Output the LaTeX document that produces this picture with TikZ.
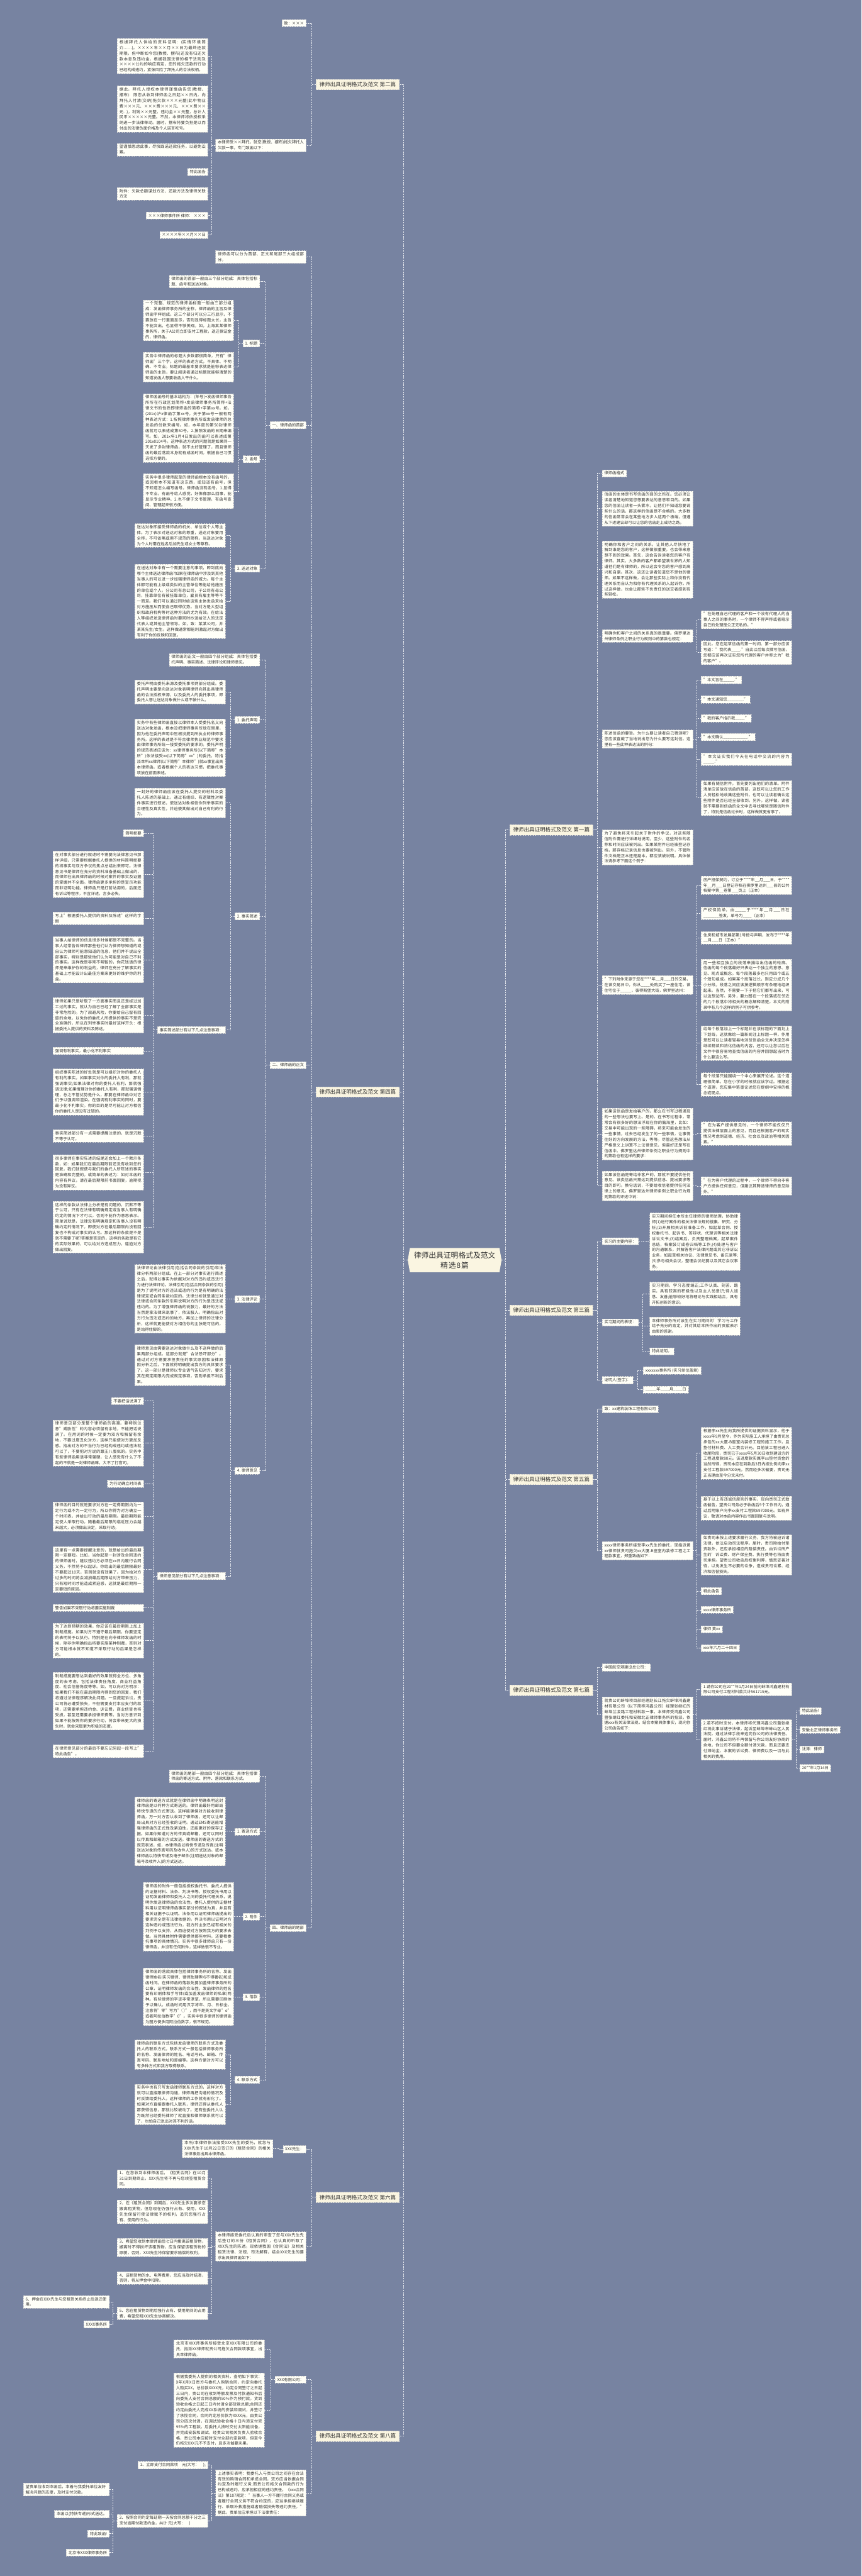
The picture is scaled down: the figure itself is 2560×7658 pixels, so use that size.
\documentclass[tikz,border=0pt]{standalone}
\usepackage{fontspec}
\setmainfont{Noto Sans CJK SC}
\usetikzlibrary{shapes.symbols}
\XeTeXlinebreaklocale "zh"
\XeTeXlinebreakskip=0pt plus 1pt

\definecolor{bgc}{HTML}{7783A1}
\definecolor{leafbg}{HTML}{FFFFF8}
\definecolor{topicbg}{HTML}{FAF5E1}
\definecolor{boxline}{HTML}{CDCDCD}
\definecolor{linec}{HTML}{EEF0F4}
\definecolor{ink}{HTML}{333333}

\tikzset{
    leaf/.style={draw=boxline, dash pattern=on 3pt off 2pt, line width=0.9pt,
        fill=leafbg, text=ink, font=\fontsize{11.8}{16.6}\selectfont,
        inner xsep=6.5pt, inner ysep=5pt},
    para/.style={leaf, text width=256pt, align=justify},
    topic/.style={leaf, fill=topicbg, font=\fontsize{16}{20}\selectfont,
        inner xsep=10pt, inner ysep=8pt},
    root/.style={signal, signal to=west and east, signal pointer angle=160,
        fill=topicbg, text=ink, font=\fontsize{22}{30}\selectfont,
        text width=246pt, align=center, inner xsep=10pt, inner ysep=11pt},
    link/.style={draw=linec, line width=1.4pt, dash pattern=on 4pt off 3pt},
}

% elbow connectors: parent on the right (L) or on the left (R) of its children
\newcommand\linkL[2]{\foreach \c in {#2} \draw[link] (#1.west) -- ++(-12,0) |- (\c.east);}
\newcommand\linkR[2]{\foreach \c in {#2} \draw[link] (#1.east) -- ++(12,0) |- (\c.west);}

\begin{document}
\begin{tikzpicture}[x=1pt, y=-1pt]

    \useasboundingbox (0,0) rectangle (2560,7658);
    \fill[bgc] (0,0) rectangle (2560,7658);

    \node[root] (root) at (1351,3746) {律师出具证明格式及范文\\精选8篇};

    % topics
    \node[topic, anchor=east] (t2) at (1187,251) {律师出具证明格式及范文 第二篇};
    \node[topic, anchor=east] (t4) at (1187,3246) {律师出具证明格式及范文 第四篇};
    \node[topic, anchor=east] (t6) at (1187,6532) {律师出具证明格式及范文 第六篇};
    \node[topic, anchor=east] (t8) at (1187,7242) {律师出具证明格式及范文 第八篇};
    \node[topic, anchor=west] (t1) at (1514,2467) {律师出具证明格式及范文 第一篇};
    \node[topic, anchor=west] (t3) at (1514,3895) {律师出具证明格式及范文 第三篇};
    \node[topic, anchor=west] (t5) at (1514,4398) {律师出具证明格式及范文 第五篇};
    \node[topic, anchor=west] (t7) at (1514,5025) {律师出具证明格式及范文 第七篇};
    \linkL{root}{t2,t4,t6,t8}
    \linkR{root}{t1,t3,t5,t7}

    % ---------- 第二篇
    \node[leaf, anchor=east] (b1) at (910,69) {致：×××};
    \node[para, anchor=east] (b2) at (910,432) {本律师受××拜托，就您(教授、摆布)拖欠拜托人欠款一事，专门致函以下：};
    \node[para, anchor=east] (b2a) at (618,167) {根据拜托人供给的资料证明：(实情环境简介……)。××××年××月××日为最终还款期限，但中断如今您(教授、摆布)还没有归还欠款本息及违约金，根据我国法律的相干法则及××××公约的响应商定，您的拖欠还款的行动已经构成违约，紧张风险了拜托人的合法权柄。};
    \node[para, anchor=east] (b2b) at (618,324) {据此，拜托人授权本律师谨慎函告您(教授、摆布)：限您从收到律师函之日起××日内，向拜托人付清(交纳)拖欠款×××元整(此中物业费×××元、×××费×××元、×××费××元...)，利钱××元整，违约金××元整，总计人民币×××××元整。不然，本律师将依授权采纳进一步法律举动。届时，摆布将要负担是以而付出的法律负面价格及个人诺言吃亏。};
    \node[para, anchor=east] (b2c) at (618,445) {望谨慎思虑此事，尽快践诺还款任务，以避免讼累。};
    \node[leaf, anchor=east] (b2d) at (618,511) {特此函告};
    \node[para, anchor=east] (b2e) at (618,576) {附件：欠款总额谋划方法、还款方法及律师关联方法};
    \node[leaf, anchor=east] (b2f) at (618,641) {×××律师事件所 律师： ×××};
    \node[leaf, anchor=east] (b2g) at (618,698) {××××年××月××日};
    \linkL{t2}{b1,b2}
    \linkL{b2}{b2a,b2b,b2c,b2d,b2e,b2f,b2g}

    % ---------- 第四篇
    \node[para, anchor=east] (d0) at (910,764) {律师函可以分为首部、正文和尾部三大组成部分。};
    \node[leaf, anchor=east] (d1) at (910,1264) {一、律师函的首部};
    \node[leaf, anchor=east] (d2) at (910,3166) {二、律师函的正文};
    \node[leaf, anchor=east] (d4) at (910,5731) {四、律师函的尾部};
    \linkL{t4}{d0,d1,d2,d4}

    \node[para, anchor=east] (d1a) at (772,837) {律师函的首部一般由三个部分组成：具体包括标题、函号和送达对象。};
    \node[leaf, anchor=east] (d1b) at (772,1021) {1. 标题};
    \node[leaf, anchor=east] (d1c) at (772,1365) {2. 函号};
    \node[leaf, anchor=east] (d1d) at (772,1690) {3. 送达对象};
    \linkL{d1}{d1a,d1b,d1c,d1d}
    \node[para, anchor=east] (d1b1) at (695,952) {一个完整、规范的律师函标题一般由三部分组成：发函律师事务所的全称，律师函的主旨及律师函字样组成。这三个部分可以分三行显示，不要放在一行里面显示，否则显得标题太长，主旨不能突出，也显得不够美观。如，上海某某律师事务所，关于A公司立即支付工程款，返还保证金的，律师函。};
    \node[para, anchor=east] (d1b2) at (695,1091) {实务中律师函的标题大多数都很简单，只有"律师函"三个字。这样的表述方式，不具体、不明确、不专业。标题的最基本要求就是能够表达律师函的主旨，要让阅读者通过标题就能够清楚的知道发函人想要收函人干什么。};
    \linkL{d1b}{d1b1,d1b2}
    \node[para, anchor=east] (d1c1) at (695,1272) {律师函函号的基本结构为：(年号)+发函律师事务所所在行政区划简称+发函律师事务所简称+法律文书的性质即律师函的简称+字第xx号。如，(201x)沪x律函字第xx号。关于第xx号一般有两种表达方式：1.按照律师事务所或发函律师的总发函的份数来编号。如，本年度的第50封律师函就可以表述成第50号。2.按照发函的日期来编写。如，201x年1月4日发出的函可以表述成第201x0104号。这种表达方式的问题就是如果同一天发了多封律师函，就不太好管理了，而且律师函的最后落款本身就有成函时间。根据自己习惯选择方便的。};
    \node[para, anchor=east] (d1c2) at (695,1460) {实务中很多律师起草的律师函根本没有函号的，或因根本不知道有这东西，或知道有函号，但不知道怎么编写函号。律师函没有函号，1.显得不专业。有函号给人感觉，好像像那么回事，能显示专业精神。2.也不便于文书管理。有函号查阅、管理起来很方便。};
    \linkL{d1c}{d1c1,d1c2}
    \node[para, anchor=east] (d1d1) at (670,1592) {送达对象即接受律师函的机关、单位或个人等主体。为了表示对送达对象的尊重，送达对象要用全称，不可省略或用不规范的简称。当送达对象为个人时需在姓名后加先生或女士等尊称。};
    \node[para, anchor=east] (d1d2) at (670,1788) {在送达对象中有一个需要注意的事项，即到底向哪个主体送达律师函?如果在律师函中涉及到其他当事人的可以进一步加强律师函的威力。每个主体都可能有上级或类似的主管单位等能给他施压的单位或个人。分公司有总公司，子公司有母公司，挂靠单位有被挂靠单位，雇员有雇主等等不一而足。我们可以通过同时给这些主体发函来给对方施压从而使自己取得优势。当对方是大型组织和政府机构等时这种方法的尤为有效。在给法人等组织发送律师函时要同时抄送给法人的法定代表人或其他主管领导。如，致：某某公司，并某某先生/女生。这样做通常都能刺激起对方做出有利于你的反映和回复。};
    \linkL{d1d}{d1d1,d1d2}

    \node[para, anchor=east] (d2a) at (772,1961) {律师函的正文一般由四个部分组成：具体包括委托声明、事实简述、法律评论和律师意见。};
    \node[leaf, anchor=east] (d2b) at (772,2140) {1. 委托声明};
    \node[leaf, anchor=east] (d2c) at (772,2724) {2. 事实简述};
    \node[leaf, anchor=east] (d2d) at (772,3862) {3. 法律评论};
    \node[leaf, anchor=east] (d2e) at (772,4372) {4. 律师意见};
    \linkL{d2}{d2a,d2b,d2c,d2d,d2e}
    \node[para, anchor=east] (d2b1) at (670,2057) {委托声明由委托来源及委托事项两部分组成。委托声明主要是向送达对象表明律师向其出具律师函的合法授权来源，以及委托人的委托事项，即委托人想让送达对象做什么或不做什么。};
    \node[para, anchor=east] (d2b2) at (670,2223) {实务中有些律师函直接以律师本人受委托名义向送达对象发函，根本没把律师事务所放在眼里，因为他在委托声明中压根没提到所执业的律师事务所。这样的表述是不符合律师执业规范中要求由律师事务所统一接受委托的要求的。委托声明的规范表述应该为：xx律师事务所(以下简称"本所")依法接受xx(以下简称"xx")的委托，特指派本所xx律师(以下简称"本律师")就xx事宜出具本律师函。或者根据个人的表达习惯，把委托事项放在前面表述。};
    \linkL{d2b}{d2b1,d2b2}
    \node[para, anchor=east] (d2c1) at (670,2387) {一封好的律师函应该在委托人提交的材料及委托人陈述的基础上，通过有组织、有逻辑性对案件事实进行叙述，使送达对象相信你列举事实的合理性及真实性，并迫使其做出对自己有利的行为。};
    \node[leaf, anchor=east] (d2c2) at (670,3062) {事实简述部分有以下几点注意事项：};
    \linkL{d2c}{d2c1,d2c2}
    \node[leaf, anchor=east] (s1) at (427,2477) {简明扼要};
    \node[para, anchor=east] (s2) at (427,2599) {在对事实部分进行叙述时不需要向法律意见书那样详细，只需要根据委托人提供的材料简明扼要的将事实与双方争议的焦点总结出来即可。法律意见书是律师在充分的资料准备基础上做出的，而律师在出具律师函的时候对案件的事实及证据的掌握并不全面。律师函更多承担的是宣示功能而非证明功能。律师函只是打前站用的，后面还有诉讼等程序，不宜详述，言多必失。};
    \node[para, anchor=east] (s3) at (427,2730) {写上"根据委托人提供的资料及陈述"这样的字眼};
    \node[para, anchor=east] (s4) at (427,2853) {当事人给律师的信息很多时候都是不完整的。当事人经常告诉律师那些他们认为律师想知道的或自认为律师可能想知道的信息，他们并不说出全部事实，特别是那些他们认为可能是对自己不利的事实。这样做是非常不明智的，你花钱请的律师是来维护你的利益的，律师在充分了解事实的基础上才能设计出最佳方案来更好的维护你的利益。};
    \node[para, anchor=east] (s5) at (427,3018) {律师如果只是听取了一方面事实而且还是经过加工过的事实，就认为自己已经了解了全部事实是非常危险的。为了规避风险，你要给自己留有回旋的余地，以免你的委托人所提供的事实不是完全准确的，所以在列举事实时最好这样开头：根据委托人提供的资料及陈述。};
    \node[para, anchor=east] (s6) at (427,3124) {强调有利事实，最小化不利事实};
    \node[para, anchor=east] (s7) at (427,3246) {组织事实陈述的好处就是可以组织对你的委托人有利的事实。如果事实对你的委托人有利，那就强调事实;如果法律对你的委托人有利，那就强调法律;如果情理对你的委托人有利，那就强调情理，总之不管优势是什么，都要在律师函中对它们予以强调和渲染。在强调有利事实的同时，要最小化不利事实。你的目的是尽可能让对方相信你的委托人是没有过错的。};
    \node[para, anchor=east] (s8) at (427,3377) {事实简述部分有一点需要提醒注意的，就是沉默不等于认可。};
    \node[para, anchor=east] (s9) at (427,3485) {很多律师在事实陈述的结尾还会加上一个默示条款，如：如果我们在最后期限前还没有收到您的回复，我们就假使与我们的委托人所陈述的事实是准确和完整的。或简单的表述为：如对本函的内容有异议，请在最后期限前书面回复，逾期视为没有异议。};
    \node[para, anchor=east] (s10) at (427,3648) {这样的条款从法律上分析是有问题的，沉默不等于认可，只有在法律有明确规定或当事人有明确约定的情况下才可以，否则不能作为意思表示。简单说就是，法律没有明确规定和当事人没有明确约定的情况下，即使对方在最后期限内没有回复也不构成对事实的认可。那这样的条款是不是就不需要了呢?答案是否定的，这样的条款是有它的实际效果的，可以给对方造成压力，逼迫对方做出回复。};
    \linkL{d2c2}{s1,s2,s3,s4,s5,s6,s7,s8,s9,s10}
    \node[para, anchor=east] (d2d1) at (670,3861) {法律评论由法律引用(包括合同条款的引用)和法律分析两部分组成。在上一部分对事实进行简述之后，就得以事实为依据对对方的违约或违法行为进行法律评论。法律引用(包括合同条款的引用)是为了说明对方的违法或违约行为是有明确的法律规定或合同条款约定的。法律分析就是通过对法律或合同条款的引用说明对方的行为是违法或违约的。为了增强律师函的说服力，最好的方法当然是拿法律来说事了，依法服人。明确指出对方行为违法或违约的地方，再加上律师的法律分析，这样就更能使对方相信你的主张是可信的，是站得住脚的。};
    \linkL{d2d}{d2d1}
    \node[para, anchor=east] (d2e1) at (670,4058) {律师意见由需要送达对象做什么及不这样做的后果两部分组成。这部分就是"合法恐吓部分"。通过对对方需要承担责任的事实原因和法律原因分析之后，下面就得明确提出我方的具体要求了。这一部分是律师以专业语气告知对方，要求其在规定期限内完成规定事项，否则承担不利后果。};
    \node[leaf, anchor=east] (d2e2) at (670,4685) {律师意见部分有以下几点注意事项：};
    \linkL{d2e}{d2e1,d2e2}
    \node[leaf, anchor=east] (o1) at (427,4165) {不要把话说满了};
    \node[para, anchor=east] (o2) at (427,4290) {律师意见部分是整个律师函的高潮，要特别注意"威胁性"的内容必须留有余地，不能把话说满了。在用词的时候一定要为双方和解留有余地，不要过度丑化对方，这样只能使对方更加反感。指出对方的不当行为已经构成违约或违法就可以了，不要把对方说的跟王八蛋似的。实务中有些律师函用语非常强硬，让人感觉有什么了不起的不就是一封律师函嘛，大不了打官司。};
    \node[leaf, anchor=east] (o3) at (427,4411) {为行动确立时间表};
    \node[para, anchor=east] (o4) at (427,4508) {律师函的目的就是要求对方在一定得期限内为一定行为或不为一定行为，所以你得为对方确立一个时间表，并给出行动的最后期限。最后期限能足使人采取行动，随着最后期限的临近压力会越来越大，必须做出决定，采取行动。};
    \node[para, anchor=east] (o5) at (427,4666) {这里有一点需要提醒注意的，就是给出的最后期限一定要短。比如，当你起草一封涉及合同违约的律师函时，建议违约方必须在xx日内履行合同义务，不然将予以起诉。你给出的最后期限最好不要超过10天，否则就没有效果了。因为给对方过多的时间将会减损最后期限给对方带来压力，只有短时间才能造成紧迫感，这就是最后期限一定要短的原因。};
    \node[para, anchor=east] (o6) at (427,4780) {警告如果不采取行动将要实施制裁};
    \node[para, anchor=east] (o7) at (427,4877) {为了达到预期的效果，你应该在最后期限上加上制裁措施。如果对方不遵守最后期限，你要坚定的表明将予以执行。特别是在向非律师发函的时候，除非你明确指出将要实施某种制裁，否则对方可能根本就不知道不采取行动的后果是怎样的。};
    \node[para, anchor=east] (o8) at (427,5057) {制裁措施要想达到最好的效果就得全方位、多角度的去考虑，包括法律责任角度、商业利益角度、社会信誉角度等等。如，可以向对方明示：如果我们不能在最后期限内得到您的回复，我们将通过法律程序解决此问题。一旦提起诉讼，贵公司将必遭受损失，不但需要支付本应支付的款项，还需要承担违约金、诉讼费，商业信誉也将受损，甚至还需要承担律师费等。当对方意识到如果不能按照你的要求行动，将会带来更大的损失时，就会采取更为积极的态度。};
    \node[para, anchor=east] (o9) at (427,5206) {在律师意见部分的最后不要忘记另起一段写上"特此函告"。};
    \linkL{d2e2}{o1,o2,o3,o4,o5,o6,o7,o8,o9}

    \node[para, anchor=east] (d4a) at (772,5280) {律师函的尾部一般由四个部分组成：具体包括律师函的寄送方式、附件、落款和联系方式。};
    \node[leaf, anchor=east] (d4b) at (772,5445) {1. 寄送方式};
    \node[leaf, anchor=east] (d4c) at (772,5698) {2. 附件};
    \node[leaf, anchor=east] (d4d) at (772,5937) {3. 落款};
    \node[leaf, anchor=east] (d4e) at (772,6183) {4. 联系方式};
    \linkL{d4}{d4a,d4b,d4c,d4d,d4e}
    \node[para, anchor=east] (d4b1) at (670,5444) {律师函的寄送方式就是在律师函中明确表明这封律师函是以何种方式寄送的。律师函最好用邮局特快专递的方式寄送。这样能确保对方能收到律师函，万一对方否认收到了律师函，还可以让邮局出具对方已经签收的证明。通过EMS寄送能增强律师函的正式性及紧迫性，还能更好的保存证据。如果你知道对方的传真或邮箱，还可以同时以传真和邮箱的方式发送。律师函的寄送方式的规范表述，如，本律师函以特快专递及传真(注明送达对象的传真号码及收件人)的方式送达。或本律师函以特快专递及电子邮件(注明送达对象的邮箱号及收件人)的方式送达。};
    \linkL{d4b}{d4b1}
    \node[para, anchor=east] (d4c1) at (695,5698) {律师函的附件一般包括授权委托书、委托人提供的证据材料、法条、判决书等。授权委托书用以证明发函律师和委托人之间的委托代理关系，说明你发送律师函的合法性。委托人提供的证据材料用以证明律师函事实部分的叙述为真，并且有相关证据予以证明。法条用以证明律师函提出的要求完全是有法律依据的。判决书用以证明对方这种违约或违法行为，我方的主张已经有相关的判例予以支持，从而迫使对方按照我方的要求去做。当然具体附件需要提供那些材料，还要看委托事项的具体情况。实务中很多律师函只有一份律师函，并没有任何附件，这样做很不专业。};
    \linkL{d4c}{d4c1}
    \node[para, anchor=east] (d4d1) at (695,5936) {律师函的落款具体包括律师事务所的名称、发函律师姓名(实习律师、律师助理等均不得署名)和成函时间。在律师函的落款处要加盖律师事务所的公章，证明律师发函的合法性。发函律师的姓名要有印刷体和手写体(或加盖发函律师的私章)两种。有些律师的字迹非常潦草，所以需要印刷体予以确认。成函时间用汉字将年、月、日标全。注意将"零"写为"○"，而不是英文字母"o"或者阿拉伯数字"0"。实务中很多律师的律师函为图方便多用阿拉伯数字，很不规范。};
    \linkL{d4d}{d4d1}
    \node[para, anchor=east] (d4e1) at (670,6108) {律师函的联系方式包括发函律师的联系方式及委托人的联系方式。联系方式一般包括律师事务所的名称、发函律师的姓名、电话号码、邮箱、传真号码、联系地址和邮编等。这样方便对方可以有多种方式和我方取得联系。};
    \node[para, anchor=east] (d4e2) at (670,6256) {实务中也有只写发函律师联系方式的，这样对方就可以直接跟律师沟通，律师再把沟通的情况及时反馈给委托人，这样律师的工作就有形化了。如果对方直接跟委托人联系，律师还得从委托人那获得信息，那就比较被动了。还有些委托人认为既然已经委托律师了就直接和律师联系就可以了，也怕自己说出对其不利的话。};
    \linkL{d4e}{d4e1,d4e2}

    % ---------- 第六篇
    \node[leaf, anchor=east] (f1) at (910,6389) {XXX先生：};
    \node[para, anchor=east] (f2) at (910,6678) {本律师接受委托后认真的审查了您与XXX先生先后签订的三份《租赁合同》，也认真的听取了XXX先生的陈述。现依据我国《合同法》及相关租赁法律、法规、司法解释，结合XXX先生的要求出具律师函如下：};
    \linkL{t6}{f1,f2}
    \node[para, anchor=east] (f1a) at (811,6387) {本所/本律师依法接受XXX先生的委托，就您与XXX先生于10月22日签订的《租赁合同》的相关法律事务出具本律师函。};
    \linkL{f1}{f1a}
    \node[para, anchor=east] (f2a) at (618,6477) {1、在您收到本律师函后，《租赁合同》在10月31日到期终止，XXX先生将不再与您续签租赁合同。};
    \node[para, anchor=east] (f2b) at (618,6575) {2、在《租赁合同》到期后，XXX先生多次要求您搬离租赁物，但您现在仍强行占有、使用，XXX先生保留行使法律赋予的权利，追究您强行占有、使用的行为。};
    \node[para, anchor=east] (f2c) at (618,6681) {3、希望您收到本律师函后七日内搬离该租赁物，搬离时不得损坏该租赁物，应当保留该租赁物的原貌，否则，XXX先生将保留要求赔偿的权利。};
    \node[para, anchor=east] (f2d) at (618,6772) {4、该租赁物的水、电等费用，您应当及时结清，否则，将从押金中扣除。};
    \node[para, anchor=east] (f2e) at (618,6877) {5、您在租赁物到期后强行占有、使用期间的占用费，希望您和XXX先生协商解决。};
    \linkL{f2}{f2a,f2b,f2c,f2d,f2e}
    \node[leaf, anchor=east, text width=242pt, align=left] (f2e1) at (325,6843) {6、押金在XXX先生与您租赁关系终止后退还使用。};
    \node[leaf, anchor=east] (f2e2) at (325,6910) {XXXX事务所};
    \linkL{f2e}{f2e1,f2e2}

    % ---------- 第八篇
    \node[leaf, anchor=east] (h1) at (910,7074) {XXX有限公司：};
    \node[para, anchor=east] (h2) at (910,7411) {上述事实表明：我委托人与贵公司之间存在合法有效的购销合同和承揽合同，双方应当依据合同约定及时履行义务;而贵公司拖欠合同款的行为已构成违约，应承担相应的违约责任。《xxx合同法》第107规定："当事人一方不履行合同义务或者履行合同义务不符合约定的，应当承担继续履行、采取补救措施或者赔偿损失等违约责任。"据此，贵单位应承担以下法律责任：};
    \linkL{t8}{h1,h2}
    \node[para, anchor=east] (h1a) at (786,6983) {北京市XXX师事务所接受北京XXX有限公司的委托，指派XX律师就贵公司拖欠合同款项事宜，出具本律师函。};
    \node[para, anchor=east] (h1b) at (786,7165) {根据我委托人提供的相关资料，查明如下事实：X年X月X日贵方与委托人购销合同，约定向委托人购买XX，总价款XXXX元，约定合同签订之日起三日内，贵公司在收到等额发票及付款通知书后向委托人支付合同总额的50\%作为预付款，货到验收合格之日起三日内付清全部货款总额;合同还约定由委托人完成XX系统的安装和调试，并签订了承揽合同，合同约定总价款为XXXX元，由贵公司分四次付清，在调试验收合格十日内须支付完95\%的工程款。后委托人按时交付太阳能设备，并完成安装和调试，经贵公司相关负责人验收合格，贵公司本应按时支付全部约定款项，但至今仍拖欠XXX元不予支付，且多次催要未果。};
    \linkL{h1}{h1a,h1b}
    \node[leaf, anchor=east] (h2a) at (618,7328) {1、立即支付合同款项\quad 元(大写：\quad );};
    \node[para, anchor=east] (h2b) at (618,7494) {2、按照合同约定每延期一天按合同总额千分之三支付逾期付款违约金，共计 元(大写：\quad )};
    \linkL{h2}{h2a,h2b}
    \node[leaf, anchor=east, text width=242pt, align=left] (h2b1) at (325,7401) {望贵单位收到本函后，本着与我委托单位友好解决问题的态度，及时支付欠款。};
    \node[leaf, anchor=east] (h2b2) at (325,7474) {本函以(特快专递)形式送达。};
    \node[leaf, anchor=east] (h2b3) at (325,7532) {特此致函!};
    \node[leaf, anchor=east] (h2b4) at (325,7588) {北京市XXX律师事务所};
    \linkL{h2b}{h2b1,h2b2,h2b3,h2b4}

    % ---------- 第一篇
    \node[leaf, anchor=west] (a1) at (1789,1407) {律师函格式};
    \node[para, anchor=west] (a2) at (1789,1512) {信函的主体是书写信函的目的之所在。您必须让读者清楚地知道您想要表达的意思和目的。如果您的信函让读者一头雾水，让他们不知道您要说些什么的话，那这样的信函是不合格的。大多数的信函常常会在某些地方步入这两个极端，但遵从下述建议却可以让您的信函走上成功之路。};
    \node[para, anchor=west] (a3) at (1789,1693) {明确你和客户之间的关系。让其他人尽快地了解到谁是您的客户，这样做很重要，也会带来意想不到的效果。首先，这会告诉读者您的客户有律师。其实，大多数的客户都希望满世界的人知道他们是有律师的，所以这会令您的客户感到高兴和自豪。其次，这还让读者知道您不是他的律师。如果不这样做，会让那些实际上和你没有代理关系而自认为和你有代理关系的人起诉你，所以这样做，也会让那些不负责任的送交者感到有些轻松。};
    \node[para, anchor=west] (a4) at (1789,1891) {明确你和客户之间的关系真的很重要。佛罗里达州律师条例之职业行为规则中的第款也规定：};
    \node[para, anchor=west] (a5) at (1789,2197) {陈述信函的要旨。为什么要让读者自己猜测呢？您应该直截了当地说出您为什么要写这封信。这里有一些此种表达法的例句：};
    \node[para, anchor=west] (a6) at (1789,2519) {为了避免将来引起关于附件的争议，对这些随信附件需进行详细地说明，至少，这些附件的名称和时间应该被列出。如果某附件已经被登记存档，那存档记录信息也要被列出。另外，不管附件文档是正本还是副本，都应该被说明。具体做法请参考下面这个例子：};
    \node[para, anchor=west] (a7) at (1789,2928) {"下列附件来源于您在****年\_\_月\_\_\_日的交易，在该交易日中，你从\_\_\_\_处购买了一座住宅，该住宅位于\_\_\_\_\_，彼得斯堡大街，佛罗里达州：};
    \node[para, anchor=west] (a8) at (1789,3371) {如果该信函是发给客户的，那么在书写过程涌现的一些想法也要写上。是的，在书写过程中，常常会有很多好的想法浮现在你的脑海里，比如：交易中可能出现的一些障碍，将来可能会发生的一些事情，过去已经发生了的一些事情，让事情往好的方向发展的方法，等等。尽管这些想法从严格意义上讲算不上法律意见，但最好还是写在信函中。佛罗里达州律师条例之职业行为规则中的第款也有这样的要求：};
    \node[para, anchor=west] (a9) at (1789,3525) {如果该信函是寄给非客户的，那就不要提供任何意见。该类信函只需达到提供信息、提出要求等目的即可。换句话说，不要给收信者提供任何法律上的意见。佛罗里达州律师条例之职业行为规则第款的评述中说：};
    \linkR{t1}{a1,a2,a3,a4,a5,a6,a7,a8,a9}
    \node[para, anchor=west] (a4a) at (2083,1842) {"在处理自己代理的客户和一个没有代理人的当事人之间的事务时，一个律师不得声称或者暗示自己的处理是公正无私的。"};
    \node[para, anchor=west] (a4b) at (2083,1940) {因此，您在起草信函的第一时间、第一部分应该写道："我代表\_\_\_\_."自此以后每次撰写信函，您都应该再次证实您所代理的客户并称之为"我的客户"。};
    \linkR{a4}{a4a,a4b}
    \node[leaf, anchor=west] (a5a) at (2083,2021) {"本文旨在\_\_\_\_\_."};
    \node[leaf, anchor=west] (a5b) at (2083,2079) {"本文通知您\_\_\_\_\_\_\_."};
    \node[leaf, anchor=west] (a5c) at (2083,2135) {"我的客户指示我\_\_\_\_."};
    \node[leaf, anchor=west] (a5d) at (2083,2191) {"本文确认\_\_\_\_\_\_\_\_\_\_\_."};
    \node[para, anchor=west] (a5e) at (2083,2257) {"本文证实我们今天在电话中交流的内容为\_\_\_\_\_."};
    \node[para, anchor=west] (a5f) at (2083,2372) {如果有随信附件，首先要列出他们的清单。附件清单应该放在信函的首部，这既可以让您的工作人员轻松地收集这些附件，也可以让读者确认这些附件是否已经全部收到。另外，这样做，读者就不需要到信函的全文中去寻找哪些是随信附件了，特别是信函过长时，这样做就更省事了。};
    \linkR{a5}{a5a,a5b,a5c,a5d,a5e,a5f}
    \node[para, anchor=west] (a7a) at (2083,2632) {房产担保契约，订立于****年\_\_月\_\_\_日，于****年\_\_月\_\_\_日登记存档在佛罗里达州\_\_\_县的公共档案中第\_\_卷第\_\_\_页上（正本）};
    \node[para, anchor=west] (a7b) at (2083,2715) {产权保险单，由\_\_\_\_\_于****年\_\_月\_\_\_日在\_\_\_\_\_\_\_签发，单号为\_\_\_\_（正本）};
    \node[para, anchor=west] (a7c) at (2083,2788) {住房和城市发展部第1号授与声明，发布于****年\_\_月\_\_\_日（正本）"};
    \node[para, anchor=west] (a7d) at (2083,2928) {用一些相互独立的段落来描绘出信函的轮廓。信函的每个段落最好只表达一个独立的意思、意见、观点或概念。每个段落最多也只用四个或五个短句组成。如果某个段落过长，则应分成几个小分段。段落之间应该按逻辑顺序有条理地组织起来。当然，不需要一下子把它们都写出来，可以边想边写。另外，要力图在一个段落或在邻近的几个段落中将相关的概念解释清楚。本文的附录中有几个这样的例子可供参考。};
    \node[para, anchor=west] (a7e) at (2083,3101) {给每个段落加上一个标题并在该标题的下面划上下划线，这就像给一篇新闻注上标题一样，作用是既可以让读者轻易地浏览信函全文并决定怎样继续精读和消化信函的内容，还可以让您以后在文件中很容易地查找信函的内容并回想起当时为什么要这么写。};
    \node[para, anchor=west] (a7f) at (2083,3224) {每个段落只能围绕一个中心来展开论述。这个道理很简单，您在小学的时候就应该学过。根据这个道理，您应集中笔墨论述您在提纲中安排的概念或观点。};
    \linkR{a7}{a7a,a7b,a7c,a7d,a7e,a7f}
    \node[para, anchor=west] (a8a) at (2083,3370) {"在为客户提供意见时，一个律师不能仅仅只提供法律层面上的意见，而且还根据客户的现实情况考虑到道德、经济、社会以及政治等相关因素。"};
    \linkR{a8}{a8a}
    \node[para, anchor=west] (a9a) at (2083,3526) {"在为客户代理的过程中，一个律师不得向非客户方提供任何意见，但建议其聘请律师的意见除外。"};
    \linkR{a9}{a9a}

    % ---------- 第三篇
    \node[leaf, anchor=west] (c1) at (1789,3690) {实习的主要内容：};
    \node[leaf, anchor=west] (c2) at (1789,3931) {实习期间的表现：};
    \node[leaf, anchor=west] (c3) at (1789,4103) {证明人(签字)：};
    \linkR{t3}{c1,c2,c3}
    \node[para, anchor=west] (c1a) at (1930,3691) {实习期间担任本所主任律师的律师助理，协助律师(1)进行案件的相关法律法规的搜集、研究、分析;(2)开展相关诉前准备工作，如起草合同、授权委托书、起诉书、答辩状、代理词等相关法律诉讼文书;(3)结案后，负责整理档案，起草案件总结，档案装订成卷归档等工作;(4)处理与客户的沟通联系，并解答客户法律问题或其它非诉讼业务，如起草相关协议、法律意见书、备忘录等;(5)参与相关会议，整理会议纪要以及其它会议事务。};
    \linkR{c1}{c1a}
    \node[para, anchor=west] (c2a) at (1930,3847) {实习期间，学习态度端正;工作认真、刻苦、踏实，具有较高的积极性以及主人翁意识;待人诚恳、友善;能够较好地将理论与实践相结合，具有开拓创新的意识。};
    \node[para, anchor=west] (c2b) at (1930,3942) {本律师事务所对该生在实习期间的'学习与工作给予充分的肯定，并对其给本所作出的贡献表示由衷的感谢。};
    \node[leaf, anchor=west] (c2c) at (1930,4017) {特此证明。};
    \linkR{c2}{c2a,c2b,c2c}
    \node[leaf, anchor=west] (c3a) at (1911,4074) {xxxxxxx事务所 (实习单位盖章)};
    \node[leaf, anchor=west] (c3b) at (1911,4131) {\_\_\_\_\_年\_\_\_\_月\_\_\_\_日};
    \linkR{c3}{c3a,c3b}

    % ---------- 第五篇
    \node[leaf, anchor=west] (e1) at (1789,4189) {致：xx建筑装饰工程有限公司};
    \node[para, anchor=west] (e2) at (1789,4610) {xxxx律师事务所接受李xx先生的委托，现指派黄xx律师就贵司拖欠xx大厦-B座室内装修工程之工程款事宜，郑重致函如下：};
    \linkR{t5}{e1,e2}
    \node[para, anchor=west] (e2a) at (2083,4320) {根据李xx先生向我所提供的证据资料显示，他于xxxx年9月至今，作为实际施工人承担了由贵司总承包的xx大厦-B座室内装修工程的施工工作，且垫付材料费、人工费合计元。目前该工程已进入收尾阶段，贵司已于xxxx年5月30日收到建设方的工程进度款80元。该进度款实属李xx垫付资金的当然所得，贵司本应在到款后3日内按比例向李xx支付工程款697000元。然而经多次催要，贵司无正当理由至今分文未付。};
    \node[para, anchor=west] (e2b) at (2083,4483) {基于以上有违诚信原则的事实，现向贵司正式致函催告，望贵公司务必于收函后5个工作日内，通过后附账户向李xx支付工程款697000元。如有异议，敬请对本函内容作出书面回复与说明。};
    \node[para, anchor=west] (e2c) at (2083,4622) {如贵司未按上述要求履行义务，我方将被迫诉诸法律，依法启动司法程序。届时，贵司除给付垫资款外，还应承担相应的赔偿责任。由诉讼所产生的'诉讼费、财产保全费、执行费等也将由贵司承担。望贵公司收函后权衡利弊，慎思妥善对待，以免发生不必要的讼争，造成贵司讼累、经济和信誉损失。};
    \node[leaf, anchor=west] (e2d) at (2083,4730) {特此函告};
    \node[leaf, anchor=west] (e2e) at (2083,4786) {xxxx律师事务所};
    \node[leaf, anchor=west] (e2f) at (2083,4843) {律师 黄xx};
    \node[leaf, anchor=west] (e2g) at (2083,4899) {xxx年六月二十四日};
    \linkR{e2}{e2a,e2b,e2c,e2d,e2e,e2f,e2g}

    % ---------- 第七篇
    \node[leaf, anchor=west] (g1) at (1789,4957) {中国航空港建设总公司：};
    \node[para, anchor=west] (g2) at (1789,5097) {就贵公司蚌埠项目部经理赵长江拖欠蚌埠鸿鑫建材有限公司（以下简称鸿鑫公司）经理张继红的蚌埠兰凌路工程材料款一事，本律师受鸿鑫公司暨张继红委托和安徽北正律师事务所的指派，依据xxx有关法律法规，结合本案具体事实，现向你公司函告如下：};
    \linkR{t7}{g1,g2}
    \node[para, anchor=west] (g2a) at (2083,5022) {1.请你公司在20**年1月24日前向蚌埠鸿鑫建材有限公司支付工程材料款共计561715元。};
    \node[para, anchor=west] (g2b) at (2083,5172) {2.若不按时支付，本律师将代理鸿鑫公司暨张继红将此事诉诸于法律，起诉至蚌埠市蚌山区人民法院，通过法律手段来追究你公司的法律责任。届时，鸿鑫公司将不再保留与你公司友好协商的余地，你公司不但要全额付清欠款，而且还要支付滞纳金、本案的诉讼费、律师费以及一切与此相关的费用。};
    \linkR{g2}{g2a,g2b}
    \node[leaf, anchor=west] (g2b1) at (2376,5086) {特此函告!};
    \node[leaf, anchor=west] (g2b2) at (2376,5143) {安徽北正律师事务所};
    \node[leaf, anchor=west] (g2b3) at (2376,5200) {沈涛：律师};
    \node[leaf, anchor=west] (g2b4) at (2376,5256) {20**年1月14日};
    \linkR{g2b}{g2b1,g2b2,g2b3,g2b4}

\end{tikzpicture}
\end{document}
